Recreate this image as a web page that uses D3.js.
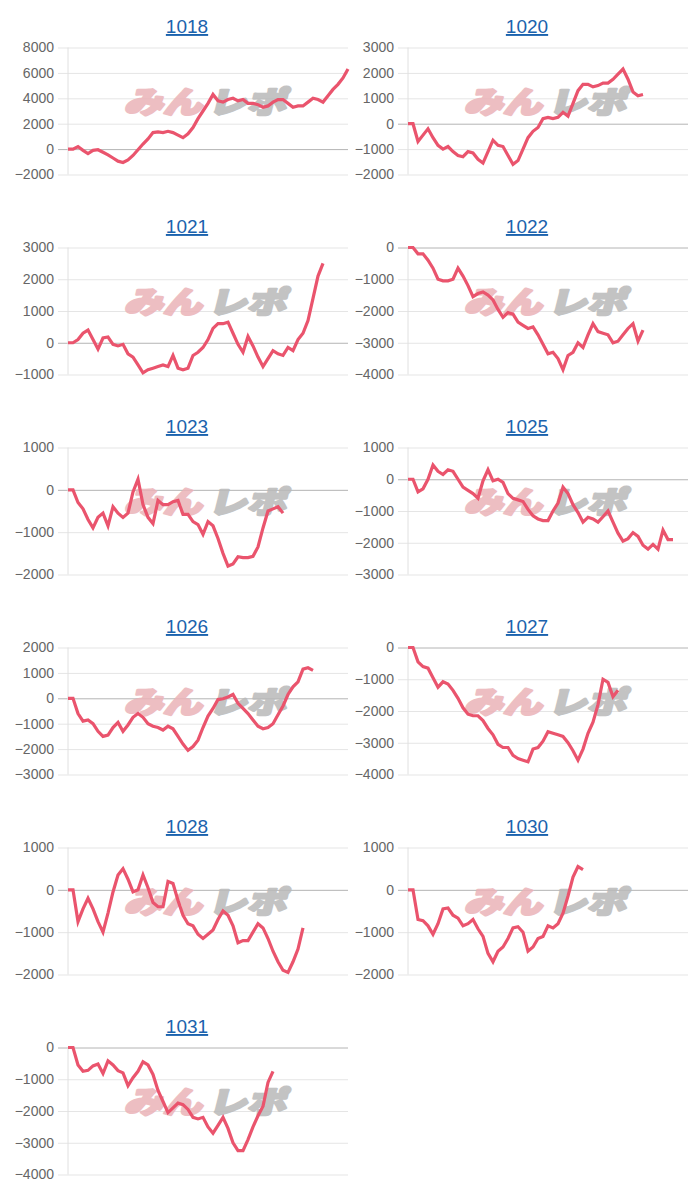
<!DOCTYPE html>
<html><head><meta charset="utf-8">
<script src="https://cdn.jsdelivr.net/npm/d3@7"></script>
<style>body{margin:0;background:#fff} svg{display:block}</style>
</head><body>
<svg id="c" width="700" height="1200"></svg>
<script>
// ---- data ----
const titles = ["1018","1020","1021","1022","1023","1025","1026","1027","1028","1030","1031"];
const t1018 = [-2000,0,2000,4000,6000,8000];
const t1020 = [-2000,-1000,0,1000,2000,3000];
const t1021 = [-1000,0,1000,2000,3000];
const t1022 = [-4000,-3000,-2000,-1000,0];
const t1023 = [-2000,-1000,0,1000];
const t1025 = [-3000,-2000,-1000,0,1000];
const t1026 = [-3000,-2000,-1000,0,1000,2000];
const t1027 = [-4000,-3000,-2000,-1000,0];
const t1028 = [-2000,-1000,0,1000];
const t1030 = [-2000,-1000,0,1000];
const t1031 = [-4000,-3000,-2000,-1000,0];

const s1018 = [0,0,200,-100,-350,-100,-50,-250,-450,-700,-950,-1050,-850,-500,-50,400,800,1300,1350,1300,1400,1300,1100,900,1200,1700,2400,3000,3600,4300,3800,3700,3900,4000,3800,3900,3600,3600,3500,3300,3400,3700,3900,3900,3600,3300,3400,3400,3700,4000,3900,3700,4200,4700,5100,5600,6300];
const s1020 = [0,0,-700,-450,-200,-550,-850,-1000,-900,-1100,-1250,-1300,-1100,-1150,-1400,-1550,-1100,-650,-850,-900,-1250,-1600,-1450,-1000,-550,-300,-150,200,250,200,250,450,300,800,1300,1550,1550,1450,1500,1600,1600,1750,1950,2150,1750,1250,1100,1150];
const s1021 = [0,0,100,300,400,100,-200,150,180,-50,-100,-50,-350,-450,-700,-950,-850,-800,-750,-700,-750,-400,-800,-850,-800,-400,-300,-150,100,450,600,600,650,300,-50,-300,200,-100,-450,-750,-500,-250,-350,-400,-150,-250,100,300,700,1400,2100,2500];
const s1022 = [0,0,-200,-200,-400,-650,-1000,-1050,-1050,-1000,-650,-900,-1200,-1550,-1450,-1400,-1500,-1650,-1950,-2200,-2050,-2100,-2350,-2450,-2550,-2500,-2750,-3050,-3350,-3300,-3500,-3850,-3400,-3300,-3000,-3150,-2750,-2400,-2650,-2700,-2750,-3000,-2950,-2750,-2550,-2400,-2950,-2600];
const s1023 = [0,0,-300,-450,-700,-900,-650,-550,-850,-400,-550,-650,-550,-50,250,-350,-650,-800,-250,-350,-350,-280,-250,-580,-580,-750,-820,-1050,-750,-850,-1150,-1500,-1800,-1750,-1580,-1600,-1600,-1570,-1350,-900,-500,-450,-400,-550];
const s1025 = [0,0,-400,-300,0,450,250,150,300,250,0,-250,-350,-450,-600,-50,300,-50,0,-100,-450,-600,-650,-700,-950,-1150,-1250,-1300,-1300,-1000,-750,-250,-450,-800,-1050,-1350,-1200,-1250,-1350,-1180,-1000,-1350,-1700,-1950,-1870,-1680,-1800,-2080,-2200,-2050,-2200,-1600,-1900,-1900];
const s1026 = [0,0,-600,-900,-850,-1000,-1300,-1500,-1450,-1150,-950,-1300,-1050,-750,-600,-750,-1000,-1100,-1150,-1250,-1100,-1200,-1500,-1800,-2050,-1900,-1650,-1150,-700,-400,-50,-20,50,150,-200,-400,-600,-850,-1100,-1200,-1150,-1000,-650,-300,150,450,650,1150,1200,1100];
const s1027 = [0,0,-450,-600,-650,-950,-1250,-1080,-1150,-1350,-1600,-1900,-2100,-2150,-2150,-2300,-2550,-2750,-3050,-3150,-3150,-3400,-3500,-3550,-3600,-3200,-3150,-2950,-2650,-2700,-2750,-2800,-3000,-3250,-3550,-3200,-2700,-2350,-1800,-1000,-1100,-1550,-1350];
const s1028 = [0,0,-750,-450,-200,-450,-750,-1000,-550,-50,350,500,250,-50,0,350,50,-300,-400,-400,200,150,-250,-600,-800,-850,-1050,-1150,-1050,-950,-700,-500,-600,-850,-1250,-1200,-1200,-1000,-800,-900,-1150,-1450,-1700,-1900,-1950,-1700,-1400,-900];
const s1030 = [0,0,-700,-730,-850,-1050,-800,-450,-430,-600,-670,-850,-800,-700,-920,-1100,-1500,-1700,-1450,-1350,-1150,-900,-870,-1000,-1450,-1350,-1150,-1100,-850,-900,-800,-550,-150,300,550,480];
const s1031 = [0,0,-550,-750,-720,-580,-520,-820,-420,-550,-730,-800,-1200,-950,-750,-450,-550,-850,-1350,-1700,-2050,-1900,-1750,-1800,-1950,-2200,-2250,-2200,-2500,-2700,-2450,-2200,-2550,-3000,-3250,-3250,-2900,-2500,-2150,-1850,-1100,-750];

const seriesList = [s1018,s1020,s1021,s1022,s1023,s1025,s1026,s1027,s1028,s1030,s1031];
const tickList = [t1018,t1020,t1021,t1022,t1023,t1025,t1026,t1027,t1028,t1030,t1031];
const xSteps = 56;

// ---- drawing ----
const svg = d3.select("#c");
const font = "'Liberation Sans', Arial, Helvetica, sans-serif";

titles.forEach((title, k) => {
  const col = k % 2, row = Math.floor(k / 2);
  const x0 = 68 + col * 340, x1 = x0 + 280;
  const yTop = 47.5 + row * 200, yBot = 174.5 + row * 200;
  const ticks = tickList[k], vals = seriesList[k];
  const x = d3.scaleLinear().domain([0, xSteps]).range([x0, x1]);
  const y = d3.scaleLinear().domain([ticks[0], ticks[ticks.length - 1]]).range([yBot, yTop]);
  const g = svg.append("g");

  // title
  g.append("text")
    .attr("x", 187 + col * 340).attr("y", 33 + row * 200)
    .attr("text-anchor", "middle")
    .attr("font-family", font).attr("font-size", 19)
    .attr("fill", "#1a62ad")
    .attr("text-decoration", "underline")
    .text(title);

  // y axis with gridlines
  const ax = g.append("g")
    .attr("transform", `translate(${x0 - 10},0)`)
    .call(d3.axisLeft(y).tickValues(ticks).tickSizeInner(-290).tickSizeOuter(0).tickPadding(4).tickFormat(d3.format("d")));
  ax.select(".domain").remove();
  ax.selectAll(".tick line")
    .attr("stroke", d => d === 0 ? "#b4b4b4" : "#e5e5e5")
    .attr("stroke-width", 1);
  ax.selectAll(".tick text")
    .attr("font-family", font).attr("font-size", 14).attr("fill", "#666");

  // vertical axis line
  g.append("line")
    .attr("x1", x0).attr("x2", x0).attr("y1", yTop).attr("y2", yBot)
    .attr("stroke", "#e0e0e0");

  // watermark
  const wx = x0 + 56, wy = yTop + 65;
  const wm = g.append("g").attr("transform", `translate(${wx},${wy}) skewX(-14)`).attr("opacity", 0.85);
  wm.append("text").attr("x", 0).attr("y", 0)
    .attr("font-family", "'Noto Sans CJK JP', sans-serif").attr("font-weight", 900)
    .attr("font-size", 30).attr("textLength", 78).attr("lengthAdjust", "spacingAndGlyphs")
    .attr("fill", "#ebb3b8").attr("stroke", "#ebb3b8").attr("stroke-width", 2.5)
    .attr("stroke-linejoin", "round").text("みん");
  wm.append("text").attr("x", 84).attr("y", 0)
    .attr("font-family", "'Noto Sans CJK JP', sans-serif").attr("font-weight", 900)
    .attr("font-size", 30).attr("textLength", 78).attr("lengthAdjust", "spacingAndGlyphs")
    .attr("fill", "#b9b9b9").attr("stroke", "#b9b9b9").attr("stroke-width", 2.5)
    .attr("stroke-linejoin", "round").text("レポ");

  // line
  g.append("path")
    .datum(vals)
    .attr("fill", "none")
    .attr("stroke", "#ea546d")
    .attr("stroke-width", 3.2)
    .attr("stroke-linejoin", "miter")
    .attr("d", d3.line().x((d, i) => x(i)).y(d => y(d)));
});
</script>
</body></html>
